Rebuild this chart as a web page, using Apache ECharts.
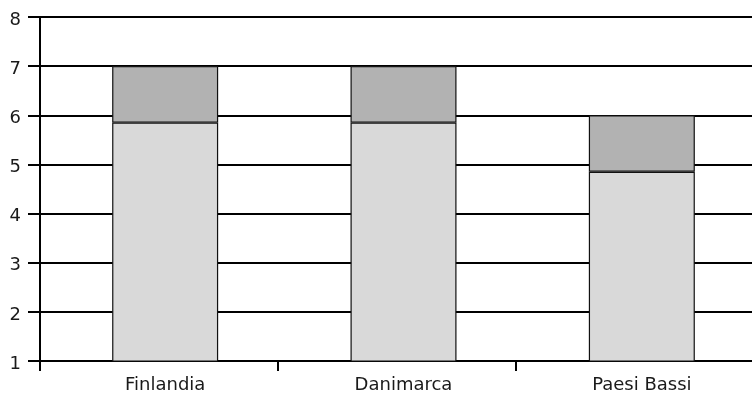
<!DOCTYPE html>
<html>
<head>
<meta charset="utf-8">
<style>
  html, body { margin: 0; padding: 0; background: #ffffff; overflow: hidden; width: 752px; height: 394px; }
  /* the plot continues past the right edge of the page */
  #chart { width: 770px; height: 394px; }
</style>
<script src="https://cdn.jsdelivr.net/npm/echarts@6/dist/echarts.min.js"></script>
</head>
<body>
<div id="chart"></div>
<script>
// Paesi e valori dei due segmenti impilati
const categories = ['Finlandia', 'Danimarca', 'Paesi Bassi'];
const baseValues = [5.85, 5.85, 4.85];
const topValues = [1.15, 1.15, 1.15];
const yTicks = { min: 1, max: 8, interval: 1 };

const font = '"DejaVu Sans", Verdana, sans-serif';
const chart = echarts.init(document.getElementById('chart'), null, { renderer: 'canvas' });

chart.setOption({
  animation: false,
  backgroundColor: '#ffffff',
  grid: [
    // axes, ticks and horizontal gridlines
    { left: 40, right: 16, top: 17, bottom: 33, containLabel: false },
    // bars sit slightly right of the category centres
    { left: 46, right: 9, top: 17, bottom: 33, containLabel: false }
  ],
  xAxis: [
    {
      type: 'category', gridIndex: 0, data: categories,
      axisLine: { lineStyle: { color: '#000', width: 2 } },
      axisTick: { show: true, length: 10, inside: false, lineStyle: { color: '#000', width: 2 } },
      axisLabel: { show: false },
      splitLine: { show: false }
    },
    {
      type: 'category', gridIndex: 1, data: categories,
      axisLine: { show: false },
      axisTick: { show: false },
      axisLabel: { color: '#1a1a1a', fontFamily: font, fontSize: 18, margin: 15 },
      splitLine: { show: false }
    }
  ],
  yAxis: [
    {
      type: 'value', gridIndex: 0, min: yTicks.min, max: yTicks.max, interval: yTicks.interval,
      axisLine: { show: true, lineStyle: { color: '#000', width: 2 } },
      axisTick: { show: true, length: 12, lineStyle: { color: '#000', width: 2 } },
      axisLabel: {
        color: '#1a1a1a', fontFamily: font, fontSize: 18, margin: 19,
        formatter: '{v|{value}}',
        rich: { v: { color: '#1a1a1a', fontFamily: font, fontSize: 18, padding: [6, 0, 0, 0] } }
      },
      splitLine: { show: true, lineStyle: { color: '#000', width: 2 } }
    },
    {
      type: 'value', gridIndex: 1, min: yTicks.min, max: yTicks.max, interval: yTicks.interval,
      axisLine: { show: false }, axisTick: { show: false },
      axisLabel: { show: false }, splitLine: { show: false }
    }
  ],
  series: [
    {
      type: 'bar', xAxisIndex: 1, yAxisIndex: 1, stack: 'tot',
      data: baseValues, barWidth: 106,
      itemStyle: { color: '#d9d9d9', borderColor: '#111', borderWidth: 1.2 }
    },
    {
      type: 'bar', xAxisIndex: 1, yAxisIndex: 1, stack: 'tot',
      data: topValues, barWidth: 106,
      itemStyle: { color: '#b2b2b2', borderColor: '#111', borderWidth: 1.2 }
    }
  ]
});
</script>
</body>
</html>
